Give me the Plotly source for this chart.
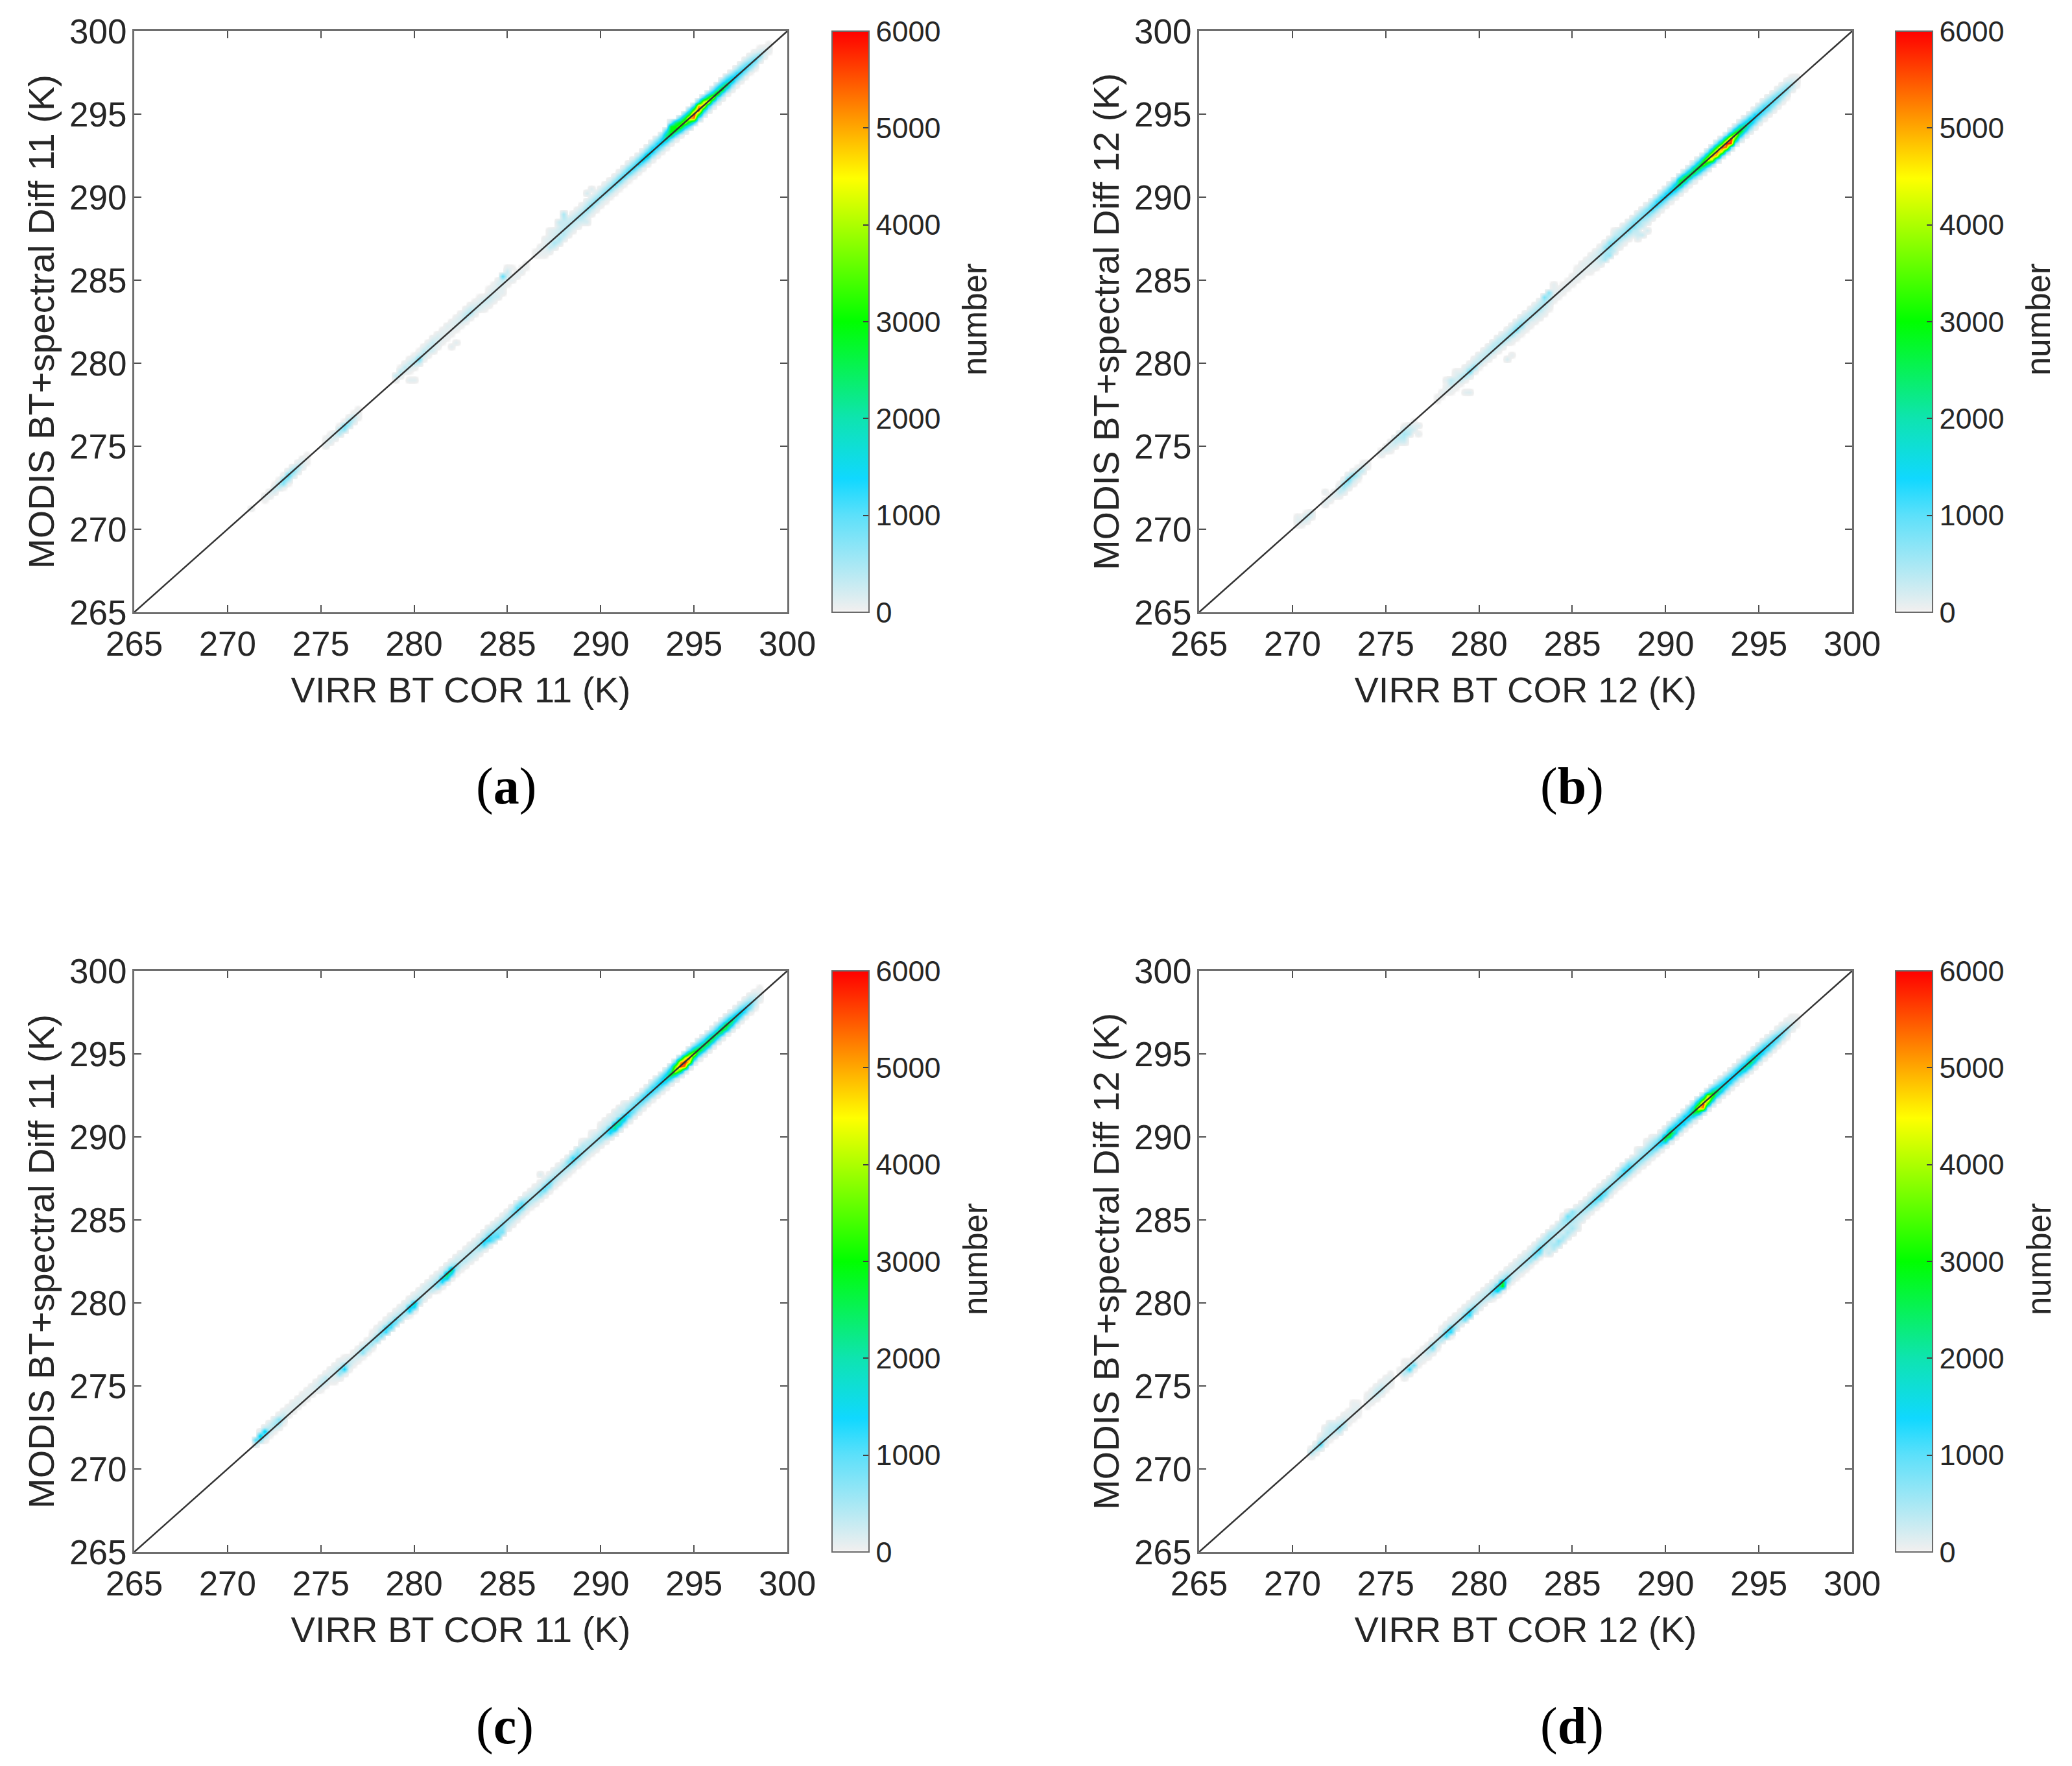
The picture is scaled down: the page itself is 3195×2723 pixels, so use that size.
import plotly.graph_objects as go

W, H = 3195, 2723
ML, MR, MT, MB = 60, 40, 30, 40
PAGE_OFFSET = 8  # browser default body margin
bt_ticks = [265, 270, 275, 280, 285, 290, 295, 300]
cb_ticks = [0, 1000, 2000, 3000, 4000, 5000, 6000]
x_titles = ["VIRR BT COR 11 (K)", "VIRR BT COR 12 (K)", "VIRR BT COR 11 (K)", "VIRR BT COR 12 (K)"]
y_titles = ["MODIS BT+spectral Diff 11 (K)", "MODIS BT+spectral Diff 12 (K)",
            "MODIS BT+spectral Diff 11 (K)", "MODIS BT+spectral Diff 12 (K)"]
panel_tags = ["a", "b", "c", "d"]

# Rows: VIRR bin (K), then counts at MODIS-VIRR = -0.5, -0.25, 0, +0.25, +0.5 K
a_rows = [
 (271.25,0,0,100,0,0),(272.0,0,60,120,0,0),(272.25,0,100,150,0,0),(272.5,0,200,300,50,0),(272.75,0,350,500,60,0),
 (273.0,60,700,900,100,0),(273.25,60,600,1150,200,0),(273.5,0,350,800,250,0),(273.75,0,300,500,150,0),(274.0,0,150,200,100,0),
 (274.25,0,50,60,50,0),(275.25,0,100,100,60,0),(275.5,0,150,150,60,0),(275.75,0,200,250,0,0),(276.0,0,450,500,60,0),
 (276.25,0,700,900,60,0),(276.5,0,500,700,100,0),(276.75,0,250,400,60,0),(277.0,0,100,100,60,0),
 (279.0,0,0,100,350,0),(279.25,0,0,150,400,60),(279.5,0,0,150,350,100),(279.75,0,60,200,300,100),(280.0,0,100,400,300,60),
 (280.25,0,300,900,300,60),(280.5,0,100,350,350,100),(280.75,0,100,250,300,120),(281.0,0,200,250,300,150),(281.25,0,100,150,200,120),
 (281.5,0,60,100,120,100),(281.75,0,60,100,100,120),(282.0,0,60,80,100,100),(282.25,0,60,150,150,100),(282.5,0,60,200,200,120),
 (282.75,0,100,400,300,150),(283.0,0,100,500,300,120),(283.25,0,120,300,150,60),(283.5,0,150,250,120,60),(283.75,80,150,300,100,0),
 (284.0,100,200,300,100,60),(284.25,100,150,200,120,60),(284.5,120,100,120,200,120),(284.75,100,100,150,300,1000),(285.0,0,60,100,200,300),
 (285.25,0,100,60,0,60),(285.5,0,100,80,0,0),(285.75,0,100,60,0,0),(286.0,0,60,60,0,0),(286.5,0,0,60,60,0),(286.75,0,60,80,100,0),
 (287.0,60,100,100,100,100),(287.25,150,350,150,150,120),(287.5,250,500,200,200,150),(287.75,300,500,300,250,200),(288.0,200,400,400,300,250),
 (288.25,150,300,400,300,200),(288.5,120,250,400,300,150),(288.75,150,250,500,300,120),(289.0,200,350,550,300,150),(289.25,150,300,700,400,200),
 (289.5,100,300,800,400,200),(289.75,100,250,800,450,200),(290.0,80,250,750,450,200),(290.25,80,300,800,500,180),(290.5,60,300,900,550,180),
 (290.75,60,350,1000,600,200),(291.0,60,400,1100,700,200),(291.25,60,450,1200,750,250),(291.5,60,500,1300,800,250),(291.75,80,550,1350,850,280),
 (292.0,80,650,1500,900,300),(292.25,100,800,1800,1000,350),(292.5,120,1000,2200,1100,400),(292.75,100,800,1700,1200,450),(293.0,100,700,1500,1300,550),
 (293.25,100,800,1700,1350,700),(293.5,120,900,2300,2200,1300),(293.75,120,1000,2900,3000,2800),(294.0,150,1300,3000,3000,2200),(294.25,200,1600,3600,3000,1300),
 (294.5,400,1900,4000,2700,1300),(294.75,900,2600,5000,2800,1300),(295.0,1300,5300,6000,3600,1200),(295.25,1000,3200,6000,5000,1300),(295.5,600,1800,4800,4300,1300),
 (295.75,400,1500,4800,2800,1000),(296.0,300,1400,4500,2000,800),(296.25,300,1300,3800,1900,800),(296.5,300,1300,3300,1700,800),(296.75,200,1200,2800,1500,700),
 (297.0,150,900,2000,1300,500),(297.25,100,800,1500,1200,400),(297.5,100,800,1400,1000,350),(297.75,80,700,1300,800,300),(298.0,60,600,1200,600,200),
 (298.25,60,500,1100,450,120),(298.5,0,300,800,250,60),(298.75,0,150,300,100,0),(299.0,0,80,120,60,0),
]
a_extra_x = [279.75, 280.0, 282.0, 282.25, 287.75, 288.0, 288.0, 287.25, 289.0, 289.25, 289.5, 289.25, 285.0, 293.75, 294.0]
a_extra_y = [279.0, 279.0, 281.0, 281.25, 288.5, 288.75, 289.0, 288.0, 288.5, 288.5, 290.5, 290.25, 285.75, 294.5, 294.5]
a_extra_n = [120, 120, 120, 120, 300, 400, 500, 100, 200, 200, 150, 200, 100, 600, 600]

b_rows = [
 (270.25,0,0,60,120,0),(270.5,0,60,150,60,0),(270.75,0,150,350,60,0),(271.0,0,150,250,0,0),(271.75,0,120,100,0,0),(272.0,0,120,100,0,0),
 (272.25,0,150,120,0,0),(272.5,100,350,300,60,0),(272.75,200,500,700,120,0),(273.0,150,500,1000,250,0),(273.25,100,350,800,100,0),(273.5,60,350,400,60,0),
 (273.75,0,300,250,60,0),(274.0,0,100,100,0,0),(274.75,0,120,80,0,0),(275.0,0,200,100,0,0),(275.25,100,200,150,0,0),(275.5,150,300,300,0,0),
 (275.75,200,400,300,0,0),(276.0,400,500,350,60,0),(276.25,350,300,200,0,0),(276.5,200,120,60,0,0),(276.75,150,0,0,0,0),(277.75,0,0,60,60,0),
 (278.0,0,0,60,100,0),(278.25,0,0,100,120,60),(278.5,0,60,100,350,350),(278.75,0,60,150,250,150),(279.0,0,60,300,300,100),(279.25,0,100,500,250,120),
 (279.5,0,200,1000,300,100),(279.75,0,100,700,300,150),(280.0,0,60,400,300,200),(280.25,0,60,300,300,200),(280.5,0,100,350,350,200),(280.75,0,100,400,400,250),
 (281.0,0,120,400,400,250),(281.25,0,120,450,400,200),(281.5,0,150,500,400,200),(281.75,60,150,700,450,200),(282.0,60,200,900,500,250),(282.25,60,200,800,500,250),
 (282.5,60,150,500,400,220),(282.75,60,120,450,400,200),(283.0,80,150,500,400,200),(283.25,120,200,500,400,250),(283.5,120,200,450,500,800),(283.75,60,150,300,400,700),
 (284.0,0,60,120,100,100),(284.25,0,60,100,60,0),(284.5,0,60,120,60,0),(284.75,0,60,100,60,0),(285.0,0,60,100,80,0),(285.25,0,60,120,100,60),(285.5,0,60,120,100,100),
 (285.75,0,60,120,120,100),(286.0,60,80,150,150,120),(286.25,100,120,200,200,120),(286.5,200,300,300,300,150),(286.75,500,500,500,600,200),(287.0,600,450,700,750,250),
 (287.25,300,300,700,600,300),(287.5,150,300,650,450,300),(287.75,100,300,750,500,300),(288.0,150,350,900,600,300),(288.25,200,400,950,700,350),(288.5,300,450,850,700,350),
 (288.75,300,400,800,700,350),(289.0,250,450,1000,800,350),(289.25,200,500,1200,1000,400),(289.5,150,600,1350,1200,450),(289.75,120,700,1400,1250,500),(290.0,120,800,1500,1300,500),
 (290.25,120,800,1600,1350,550),(290.5,120,900,2000,1700,600),(290.75,150,1000,2800,2700,1000),(291.0,150,1000,2900,2400,800),(291.25,150,1100,3000,2000,600),(291.5,200,1300,3000,2000,600),
 (291.75,300,1500,3100,2100,700),(292.0,400,1800,3700,2400,800),(292.25,600,2400,4500,2700,900),(292.5,900,4200,5200,3000,1000),(292.75,1000,4800,5400,3000,1000),(293.0,900,4300,5600,3000,900),
 (293.25,900,5200,6000,3000,800),(293.5,1000,5700,6000,2800,800),(293.75,700,3000,4500,2400,700),(294.0,500,2000,3300,2000,600),(294.25,300,1500,2500,1600,500),(294.5,300,1200,2000,1400,450),
 (294.75,250,1100,1500,1300,450),(295.0,200,1000,1400,1100,400),(295.25,150,900,1300,1000,400),(295.5,150,800,1200,900,350),(295.75,150,700,1100,800,300),(296.0,120,650,1000,700,250),
 (296.25,100,500,900,600,200),(296.5,60,400,800,500,150),(296.75,0,200,500,250,60),(297.0,0,80,150,100,0),
]
b_extra_x = [270.25, 271.75, 278.25, 279.25, 279.5, 281.5, 281.75, 288.5, 288.75, 289.0, 288.5, 276.75, 276.0, 284.0, 278.75, 287.25]
b_extra_y = [270.75, 272.25, 279.0, 278.25, 278.25, 280.25, 280.5, 287.75, 287.75, 288.0, 287.5, 275.75, 275.25, 284.75, 279.5, 288.0]
b_extra_n = [100, 100, 120, 120, 150, 180, 100, 250, 300, 200, 150, 100, 200, 100, 100, 120]

c_rows = [
 (271.5,0,0,300,1100,0),(271.75,0,0,800,1800,200),(272.0,0,100,600,1700,300),(272.25,0,60,300,400,250),(272.5,0,60,350,500,300),(272.75,0,150,600,700,150),
 (273.0,0,60,300,300,120),(273.25,0,0,100,150,100),(273.5,0,0,100,150,120),(273.75,0,0,100,150,120),(274.0,0,0,100,120,100),(274.25,0,0,100,120,100),
 (274.5,0,0,100,120,100),(274.75,0,0,150,200,120),(275.0,0,60,250,300,150),(275.25,0,60,300,350,100),(275.5,0,60,150,200,120),(275.75,60,150,200,200,120),
 (276.0,150,700,500,150,120),(276.25,200,1400,800,120,60),(276.5,100,350,300,100,0),(276.75,60,200,200,100,0),(277.0,60,250,300,100,0),(277.25,60,700,550,120,0),
 (277.5,60,500,450,120,0),(277.75,60,500,500,150,60),(278.0,0,700,600,200,100),(278.25,0,800,800,300,120),(278.5,0,1200,1200,300,120),(278.75,0,1100,1200,300,150),
 (279.0,0,800,1000,300,150),(279.25,0,600,600,250,150),(279.5,0,500,500,250,150),(279.75,60,1400,1500,300,150),(280.0,60,1500,1900,300,150),(280.25,0,500,600,250,150),
 (280.5,0,200,300,250,180),(280.75,0,150,300,250,180),(281.0,0,300,500,300,180),(281.25,60,800,800,350,180),(281.5,100,1300,1700,400,180),(281.75,150,1800,2600,600,200),
 (282.0,100,1500,2500,500,200),(282.25,60,500,800,300,200),(282.5,60,300,400,250,180),(282.75,100,350,400,250,150),(283.0,120,300,400,250,150),(283.25,150,300,400,250,150),
 (283.5,150,500,600,300,150),(283.75,200,1200,1300,400,200),(284.0,300,1300,1200,500,250),(284.25,800,1000,900,350,200),(284.5,1100,800,800,350,150),(284.75,800,700,800,400,150),
 (285.0,200,400,600,450,150),(285.25,150,350,700,700,250),(285.5,100,400,1000,1100,400),(285.75,60,400,1100,1000,350),(286.0,60,350,700,500,200),(286.25,60,350,500,350,150),
 (286.5,100,400,500,300,150),(286.75,100,600,800,300,150),(287.0,100,800,1000,350,150),(287.25,100,700,1000,400,150),(287.5,60,350,600,350,180),(287.75,60,250,500,350,180),
 (288.0,60,250,500,500,200),(288.25,60,300,700,800,300),(288.5,60,350,1000,1200,400),(288.75,60,350,900,800,500),(289.0,60,300,600,450,400),(289.25,60,300,500,400,300),
 (289.5,60,300,550,400,200),(289.75,100,350,600,400,200),(290.0,120,500,700,400,200),(290.25,150,700,900,400,200),(290.5,300,1400,1500,450,200),(290.75,500,2200,2200,500,220),
 (291.0,500,2000,1900,500,250),(291.25,400,1700,1600,500,250),(291.5,300,1200,1300,600,300),(291.75,200,800,1000,800,300),(292.0,150,700,1000,900,300),(292.25,120,700,1200,1000,300),
 (292.5,100,800,1300,1100,350),(292.75,100,800,1300,1100,500),(293.0,100,800,1400,1200,600),(293.25,120,900,1600,1300,700),(293.5,150,1100,2000,1500,800),(293.75,200,1400,3000,2000,1000),
 (294.0,300,2200,4600,3400,1200),(294.25,500,3000,5800,5000,1400),(294.5,500,5200,6000,4200,1300),(294.75,500,4200,5500,3200,1000),(295.0,400,2200,4500,2400,800),(295.25,300,1800,3300,1600,700),
 (295.5,300,1800,2900,1500,600),(295.75,300,2000,3000,1500,600),(296.0,300,1800,2900,1400,500),(296.25,300,1700,2800,1400,500),(296.5,300,2000,3000,1400,500),(296.75,300,2200,3100,1300,450),
 (297.0,250,1800,2600,1200,400),(297.25,200,1400,2000,1100,350),(297.5,150,1200,1800,1000,300),(297.75,100,1100,1400,700,250),(298.0,100,800,1100,500,200),(298.25,60,350,500,250,100),(298.5,0,120,200,100,60),
]
c_extra_x = [286.75, 290.25, 290.5, 290.75, 291.0, 291.25, 289.0, 289.5, 290.0]
c_extra_y = [287.75, 291.0, 291.25, 291.5, 291.75, 292.0, 289.75, 290.25, 290.75]
c_extra_n = [150, 120, 150, 200, 220, 180, 100, 100, 100]

d_rows = [
 (271.0,0,100,500,100,0),(271.25,0,150,700,200,0),(271.5,0,300,1250,350,100),(271.75,0,100,500,300,200),(272.0,0,60,300,350,250),(272.25,0,100,300,350,220),
 (272.5,0,400,700,300,120),(272.75,0,300,500,200,100),(273.0,0,60,120,120,60),(273.25,0,60,100,150,80),(273.5,0,60,100,120,60),(274.0,0,60,100,100,60),
 (274.25,0,60,150,150,60),(274.5,0,100,350,250,100),(274.75,0,100,350,250,100),(275.0,0,60,150,120,100),(275.25,0,60,120,120,60),(275.75,0,0,60,60,0),
 (276.0,100,400,200,60,60),(276.25,150,1300,400,60,0),(276.5,100,900,300,60,0),(276.75,60,150,120,60,0),(277.0,60,150,150,60,0),(277.25,100,350,300,60,0),
 (277.5,100,800,650,100,0),(277.75,60,350,400,150,0),(278.0,0,400,600,200,60),(278.25,0,1100,1100,250,100),(278.5,60,1300,1200,250,120),(278.75,0,500,500,250,120),
 (279.0,0,300,500,250,120),(279.25,0,900,1000,300,150),(279.5,0,1300,1300,300,150),(279.75,0,500,700,300,150),(280.0,0,250,400,300,180),(280.25,0,200,400,300,180),
 (280.5,0,300,450,300,180),(280.75,60,800,1000,350,200),(281.0,100,1800,1500,400,200),(281.25,100,3000,2800,500,200),(281.5,60,700,1000,400,180),(281.75,60,300,350,250,150),
 (282.0,60,250,300,250,180),(282.25,60,300,400,300,180),(282.5,60,400,500,300,180),(282.75,60,500,600,350,180),(283.0,60,700,900,450,200),(283.25,60,900,1200,500,300),
 (283.5,120,300,700,500,300),(283.75,200,300,500,600,350),(284.0,500,250,400,500,250),(284.25,700,200,350,450,300),(284.5,500,200,350,500,500),(284.75,500,300,500,700,900),
 (285.0,500,350,500,600,700),(285.25,250,300,450,400,250),(285.5,200,300,500,350,180),(285.75,100,400,700,400,150),(286.0,100,600,900,450,180),(286.25,100,800,1100,500,200),
 (286.5,100,1000,1200,500,200),(286.75,100,800,1100,450,200),(287.0,100,500,800,450,250),(287.25,60,400,700,500,300),(287.5,60,400,800,800,300),(287.75,60,500,1000,1200,500),
 (288.0,60,500,1100,1100,500),(288.25,60,500,900,600,300),(288.5,80,450,800,500,250),(288.75,100,500,900,550,300),(289.0,100,500,900,600,350),(289.25,100,600,1000,650,350),
 (289.5,100,800,1200,700,300),(289.75,150,1200,1500,800,300),(290.0,200,2300,2800,1000,350),(290.25,250,2600,3000,1300,450),(290.5,200,1800,1800,1300,500),(290.75,150,1300,1500,1300,550),
 (291.0,150,1300,1500,1400,600),(291.25,200,1300,1600,1400,700),(291.5,300,1600,2800,1800,800),(291.75,500,2500,4800,2800,1100),(292.0,600,5300,5900,3000,1000),(292.25,500,3000,5200,4000,900),
 (292.5,500,2400,3800,2200,800),(292.75,300,1700,2800,1500,600),(293.0,250,1500,2000,1400,500),(293.25,250,1300,1800,1300,450),(293.5,200,1200,1600,1200,450),(293.75,200,1200,1600,1300,400),
 (294.0,200,1300,1900,1200,400),(294.25,200,1500,2200,1200,400),(294.5,250,1800,2700,1200,400),(294.75,200,1600,2400,1200,350),(295.0,200,1400,1800,1100,350),(295.25,150,1200,1500,1000,350),
 (295.5,120,1000,1400,900,300),(295.75,100,900,1300,800,250),(296.0,80,800,1300,600,200),(296.25,60,600,1000,500,150),(296.5,60,350,700,300,100),(296.75,0,150,300,120,60),(297.0,0,60,100,60,0),
]
d_extra_x = [283.75, 284.0, 284.25, 284.5, 284.75, 285.0, 284.75, 284.5, 288.5, 289.0, 289.25, 271.75, 272.0, 273.25, 285.25]
d_extra_y = [283.0, 283.25, 283.5, 283.75, 284.0, 284.25, 285.5, 285.25, 289.25, 289.75, 290.0, 272.5, 272.75, 274.0, 284.5]
d_extra_n = [300, 400, 500, 400, 300, 250, 120, 120, 150, 120, 120, 150, 200, 80, 200]

cmap_values = [0, 24, 1000, 1380, 2000, 3000, 4480, 6000]
cmap_colors = ["#ffffff", "#efefef", "#5ce0fa", "#10d8ff", "#0ee4b0", "#00ff00", "#ffff00", "#ff0000"]
colorscale = [[v / 6000, c] for v, c in zip(cmap_values, cmap_colors)]

# pixel frames of the four panels: left, right, top, bottom, colourbar left
frames = [(207, 1214, 48, 944, 1283), (1849, 2856, 48, 944, 2923),
          (207, 1214, 1497, 2393, 1283), (1849, 2856, 1497, 2393, 2923)]
tag_xy = [(780, 1212), (2424, 1212), (778, 2661), (2424, 2661)]
panel_rows = [a_rows, b_rows, c_rows, d_rows]
panel_extra = [(a_extra_x, a_extra_y, a_extra_n), (b_extra_x, b_extra_y, b_extra_n),
               (c_extra_x, c_extra_y, c_extra_n), (d_extra_x, d_extra_y, d_extra_n)]


def px(v):
    return (v - PAGE_OFFSET - ML) / (W - ML - MR)


def py(v):
    return 1 - (v - PAGE_OFFSET - MT) / (H - MT - MB)


axis_edges = [265 + 0.25 * i for i in range(141)]
TEXT = "#262626"
fig = go.Figure()
layout = {}
annotations = []
for p in range(4):
    left, right, top, bottom, cb_left = frames[p]
    z = [[0 for _ in axis_edges] for _ in axis_edges]
    for row in panel_rows[p]:
        col = round((row[0] - 265) * 4)
        for j, n in enumerate(row[1:]):
            r = col + j - 2
            if 0 <= r < 141:
                z[r][col] = max(z[r][col], n)
    for ex, ey, en in zip(*panel_extra[p]):
        r, col = round((ey - 265) * 4), round((ex - 265) * 4)
        z[r][col] = max(z[r][col], en)
    sfx = "" if p == 0 else str(p + 1)
    fig.add_trace(go.Heatmap(
        x=axis_edges, y=axis_edges, z=z, zmin=0, zmax=6000, zsmooth="best",
        colorscale=colorscale, xaxis="x" + sfx, yaxis="y" + sfx, hoverinfo="skip",
        colorbar=dict(
            x=px(cb_left), xanchor="left", xref="paper", xpad=0,
            y=py((top + bottom) / 2), yanchor="middle", yref="paper", ypad=0,
            len=(bottom - top) / (H - MT - MB), lenmode="fraction", thickness=57, thicknessmode="pixels",
            outlinecolor="#6a6a6a", outlinewidth=2, ticks="inside", ticklen=10, tickwidth=2,
            tickcolor="#404040", tickvals=cb_ticks, tickfont=dict(family="Liberation Sans", size=45, color=TEXT),
        ),
    ))
    fig.add_trace(go.Scatter(x=[265, 300], y=[265, 300], mode="lines", showlegend=False, hoverinfo="skip",
                             line=dict(color="#333333", width=2.5), xaxis="x" + sfx, yaxis="y" + sfx))
    axis_common = dict(range=[265, 300], tickvals=bt_ticks, ticks="inside", ticklen=11, tickwidth=2,
                       tickcolor="#505050", showline=True, linecolor="#6e6e6e", linewidth=3, mirror="allticks",
                       showgrid=False, zeroline=False, automargin=False, tickangle=0,
                       tickfont=dict(family="Liberation Sans", size=53, color=TEXT))
    layout["xaxis" + sfx] = dict(axis_common, domain=[px(left), px(right)], anchor="y" + sfx, ticklabelstandoff=0,
                                 title=dict(text=x_titles[p], standoff=24, font=dict(family="Liberation Sans", size=56, color=TEXT)))
    layout["yaxis" + sfx] = dict(axis_common, domain=[py(bottom), py(top)], anchor="x" + sfx, ticklabelstandoff=-2,
                                 title=dict(text=y_titles[p], standoff=6, font=dict(family="Liberation Sans", size=56, color=TEXT)))
    annotations.append(dict(text="number", textangle=-90, x=px(cb_left + 221), y=py(top + 445),
                            xref="paper", yref="paper", showarrow=False, xanchor="center", yanchor="middle",
                            font=dict(family="Liberation Sans", size=51, color=TEXT)))
    annotations.append(dict(text="(<b>%s</b>)" % panel_tags[p], x=px(tag_xy[p][0]), y=py(tag_xy[p][1]),
                            xref="paper", yref="paper", showarrow=False, xanchor="center", yanchor="middle",
                            font=dict(family="Liberation Serif", size=80, color="#000000")))

fig.update_layout(width=W, height=H, autosize=False, margin=dict(l=ML, r=MR, t=MT, b=MB, autoexpand=False),
                  paper_bgcolor="white", plot_bgcolor="white", showlegend=False,
                  annotations=annotations, **layout)
fig.write_html("out.html")
